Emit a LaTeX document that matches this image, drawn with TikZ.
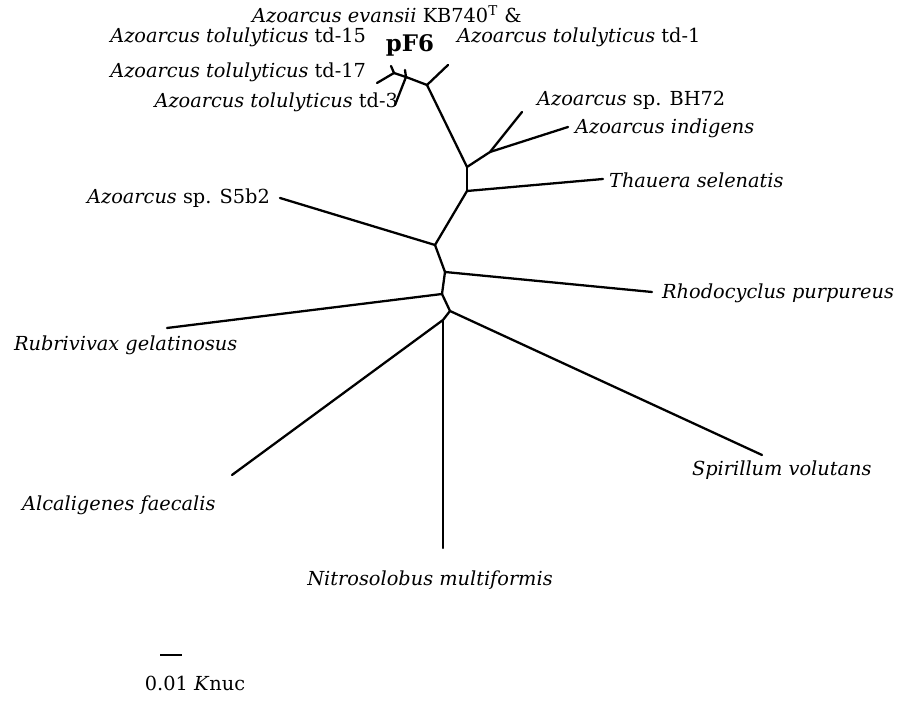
\documentclass[tikz,border=0pt]{standalone}
\usepackage{fontspec}
\setmainfont{DejaVu Serif}
\usepackage{tikz}
\usetikzlibrary{positioning, calc}

\tikzset{
    branch/.style={line width=1.3pt, line cap=round, line join=round},
    taxon/.style={font=\fontsize{11}{13}\selectfont, inner sep=1pt},
}

\begin{document}
\begin{tikzpicture}

\useasboundingbox (0,0) rectangle (18.32,14.18);

% === Tree junctions ===
\coordinate (a) at (7.88, 12.72);
\coordinate (b) at (8.12, 12.64);
\coordinate (c) at (8.54, 12.48);
\coordinate (d) at (9.34, 10.84);
\coordinate (e) at (9.80, 11.14);
\coordinate (f) at (9.34, 10.36);
\coordinate (g) at (8.70, 9.28);
\coordinate (h) at (8.90, 8.74);
\coordinate (i) at (8.84, 8.30);
\coordinate (j) at (9.00, 7.96);
\coordinate (k) at (8.86, 7.78);

% === Leaf ends ===
\coordinate (tickA) at (7.82, 12.86);
\coordinate (tickB) at (8.10, 12.78);
\coordinate (tdfifteen) at (7.54, 12.52);
\coordinate (tdseventeen) at (7.90, 12.08);
\coordinate (tdone) at (8.96, 12.88);
\coordinate (bhseventytwo) at (10.44, 11.94);
\coordinate (indigens) at (11.36, 11.64);
\coordinate (thauera) at (12.06, 10.60);
\coordinate (sfiveb) at (5.60, 10.22);
\coordinate (rhodo) at (13.04, 8.34);
\coordinate (rubri) at (3.34, 7.62);
\coordinate (spiri) at (15.24, 5.08);
\coordinate (alca) at (4.64, 4.68);
\coordinate (nitro) at (8.86, 3.22);

% Branches
\foreach \u/\v in {a/tdfifteen, a/tickA, a/b, b/tickB, b/tdseventeen, b/c, c/tdone,
                   c/d, d/e, e/bhseventytwo, e/indigens, d/f, f/thauera, f/g,
                   g/sfiveb, g/h, h/rhodo, h/i, i/rubri, i/j, j/spiri, j/k,
                   k/alca, k/nitro} {
    \draw[branch] (\u) -- (\v);
}

% === Labels ===
\node[taxon, anchor=west] (lEvansii) at (5.00, 13.90) {\textit{Azoarcus evansii} KB740$^{\mathrm{T}}$ \&};
\node[font=\fontsize{13}{15}\selectfont\bfseries, inner sep=1pt] (lPF) at (8.20, 13.28) {pF6};
\node[taxon, anchor=east] (lTdFifteen) at (7.36, 13.44) {\textit{Azoarcus tolulyticus} td-15};
\node[taxon, anchor=west] (lTdOne) at (9.10, 13.44) {\textit{Azoarcus tolulyticus} td-1};
\node[taxon, anchor=east] (lTdSeventeen) at (7.36, 12.74) {\textit{Azoarcus tolulyticus} td-17};
\node[taxon, anchor=east] (lTdThree) at (8.00, 12.14) {\textit{Azoarcus tolulyticus} td-3};
\node[taxon, anchor=west] (lBH) at (10.70, 12.18) {\textit{Azoarcus} sp. BH72};
\node[taxon, anchor=west] (lIndigens) at (11.46, 11.62) {\textit{Azoarcus indigens}};
\node[taxon, anchor=west] (lThauera) at (12.14, 10.58) {\textit{Thauera selenatis}};
\node[taxon, anchor=east] (lSfive) at (5.44, 10.22) {\textit{Azoarcus} sp. S5b2};
\node[taxon, anchor=west] (lRhodo) at (13.20, 8.32) {\textit{Rhodocyclus purpureus}};
\node[taxon, anchor=west] (lRubri) at (0.24, 7.28) {\textit{Rubrivivax gelatinosus}};
\node[taxon, anchor=west] (lSpiri) at (13.80, 4.78) {\textit{Spirillum volutans}};
\node[taxon, anchor=west] (lAlca) at (0.40, 4.08) {\textit{Alcaligenes faecalis}};
\node[taxon] (lNitro) at (8.60, 2.58) {\textit{Nitrosolobus multiformis}};

% Scale bar
\coordinate (barL) at (3.20, 1.08);
\coordinate (barR) at (3.64, 1.08);
\draw[line width=1pt] (barL) -- (barR);
\node[taxon] (lScale) at (3.90, 0.52) {0.01 \textit{K}nuc};

\end{tikzpicture}
\end{document}
